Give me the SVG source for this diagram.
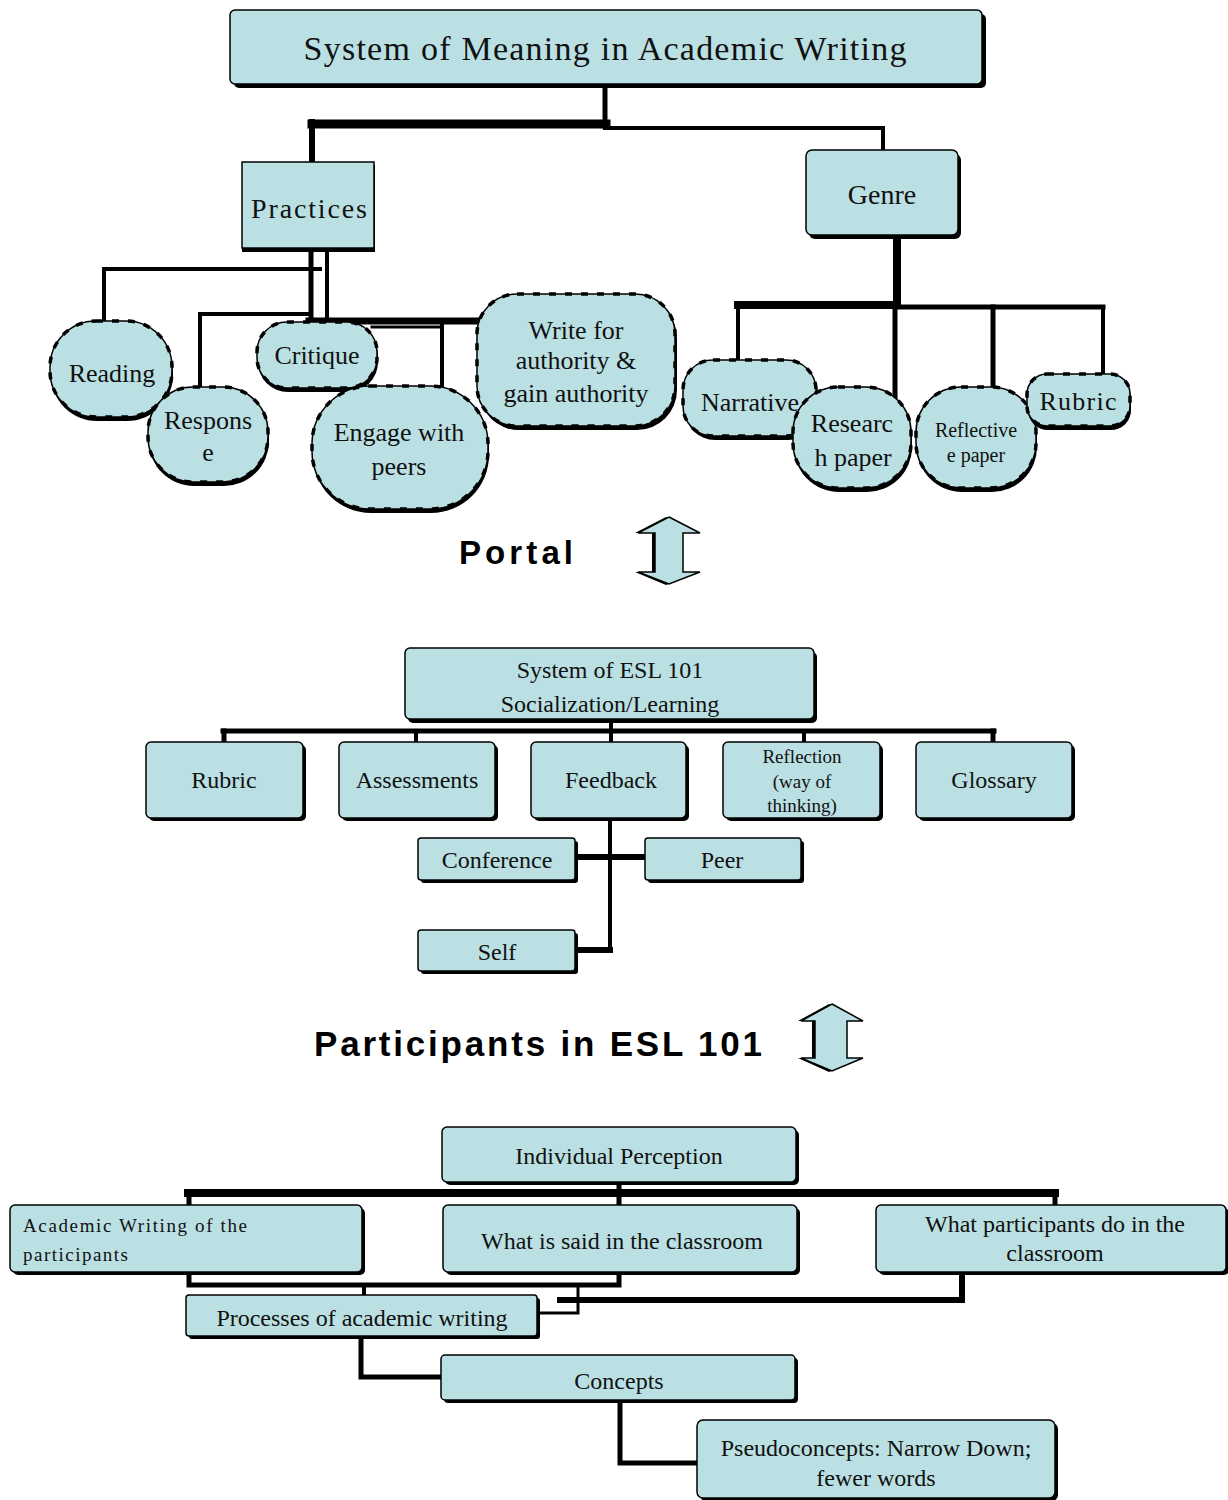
<svg xmlns="http://www.w3.org/2000/svg" width="1228" height="1500" viewBox="0 0 1228 1500">
<style>
.bg{fill:#ffffff}
.sh{fill:#000000}
.bx{fill:#BAE0E3;stroke:#000;stroke-width:1.5}
.ov{fill:#BAE0E3;stroke:#000;stroke-width:1.5}
.ovd{fill:none;stroke:#000;stroke-width:3.5;stroke-dasharray:7 9}
.t{font-family:"Liberation Serif","Times New Roman",serif;fill:#111;text-anchor:middle}
.tl{font-family:"Liberation Serif","Times New Roman",serif;fill:#111;text-anchor:start}
.b{font-family:"Liberation Sans",Arial,sans-serif;font-weight:bold;fill:#000}
.c{fill:none;stroke:#000;stroke-linecap:square}
.ar{fill:#BAE0E3;stroke:#000;stroke-width:1.5;stroke-linejoin:miter}
</style>
<rect class="bg" x="0" y="0" width="1228" height="1500"/>

<g id="connectors">
  <path class="c" stroke-width="5" d="M605 84 V126"/>
  <path class="c" stroke-width="9" d="M312 124 H606"/>
  <path class="c" stroke-width="4" d="M605 128 H883 V150"/>
  <path class="c" stroke-width="6" d="M312 122 V162"/>
  <path class="c" stroke-width="5" d="M311 249 V322"/>
  <path class="c" stroke-width="4" d="M327 249 V318"/>
  <path class="c" stroke-width="4" d="M104 269 H320 M104 269 V322"/>
  <path class="c" stroke-width="4" d="M200 314 H310 M200 314 V388"/>
  <path class="c" stroke-width="7" d="M309 321 H482"/>
  <path class="c" stroke-width="3" d="M372 327 H442"/>
  <path class="c" stroke-width="4" d="M442 321 V390"/>
  <path class="c" stroke-width="8" d="M897 235 V305"/>
  <path class="c" stroke-width="8" d="M738 305 H897"/>
  <path class="c" stroke-width="5" d="M897 307 H1103"/>
  <path class="c" stroke-width="4" d="M738 305 V361"/>
  <path class="c" stroke-width="5" d="M895 307 V400"/>
  <path class="c" stroke-width="5" d="M993 307 V388"/>
  <path class="c" stroke-width="4" d="M1103 307 V375"/>
  <path class="c" stroke-width="4" d="M611 720 V742"/>
  <path class="c" stroke-width="5" d="M223 731 H994"/>
  <path class="c" stroke-width="5" d="M224 731 V742"/>
  <path class="c" stroke-width="4" d="M416 731 V742"/>
  <path class="c" stroke-width="4" d="M804 731 V742"/>
  <path class="c" stroke-width="5" d="M993 731 V742"/>
  <path class="c" stroke-width="4" d="M610 818 V950"/>
  <path class="c" stroke-width="6" d="M576 857 H645"/>
  <path class="c" stroke-width="6" d="M576 950 H610"/>
  <path class="c" stroke-width="5" d="M619 1182 V1205"/>
  <path class="c" stroke-width="8" d="M188 1193 H1055"/>
  <path class="c" stroke-width="5" d="M189 1193 V1205"/>
  <path class="c" stroke-width="5" d="M1055 1193 V1205"/>
  <path class="c" stroke-width="5" d="M189 1272 V1285 H619 V1272"/>
  <path class="c" stroke-width="4" d="M364 1285 V1295"/>
  <path class="c" stroke-width="3" d="M537 1313 H578 V1286"/>
  <path class="c" stroke-width="6" d="M560 1300 H962 V1253"/>
  <path class="c" stroke-width="5" d="M361 1336 V1377 H442"/>
  <path class="c" stroke-width="5" d="M620 1400 V1463 H697"/>
</g>

<g id="n-title">
  <rect class="sh" x="234" y="14" width="752" height="74" rx="5"/>
  <rect class="bx" x="230" y="10" width="752" height="74" rx="5"/>
  <text class="t" x="605" y="60" font-size="34" textLength="603" lengthAdjust="spacing">System of Meaning in Academic Writing</text>
</g>
<g id="n-practices">
  <rect class="sh" x="242" y="165" width="133" height="87"/>
  <rect class="bx" x="242" y="162" width="132" height="86"/>
  <text class="t" x="309" y="218" font-size="28" textLength="116" lengthAdjust="spacing">Practices</text>
</g>
<g id="n-genre">
  <rect class="sh" x="809" y="154" width="152" height="85" rx="6"/>
  <rect class="bx" x="806" y="150" width="152" height="85" rx="6"/>
  <text class="t" x="882" y="204" font-size="28">Genre</text>
</g>

<g id="n-reading">
  <rect class="sh" x="51" y="325" width="122" height="96" rx="46"/>
  <rect class="ov" x="50" y="321" width="122" height="96" rx="46"/>
  <rect class="ovd" x="50" y="321" width="122" height="96" rx="46"/>
  <text class="t" x="112" y="382" font-size="26">Reading</text>
</g>
<g id="n-response">
  <rect class="sh" x="149" y="391" width="120" height="95" rx="45"/>
  <rect class="ov" x="148" y="387" width="120" height="95" rx="45"/>
  <rect class="ovd" x="148" y="387" width="120" height="95" rx="45"/>
  <text class="t" x="208" y="429" font-size="26">Respons</text>
  <text class="t" x="208" y="461" font-size="26">e</text>
</g>
<g id="n-critique">
  <rect class="sh" x="258" y="326" width="120" height="66" rx="30"/>
  <rect class="ov" x="257" y="322" width="120" height="66" rx="30"/>
  <rect class="ovd" x="257" y="322" width="120" height="66" rx="30"/>
  <text class="t" x="317" y="364" font-size="26">Critique</text>
</g>
<g id="n-engage">
  <rect class="sh" x="313" y="390" width="176" height="123" rx="58"/>
  <rect class="ov" x="312" y="386" width="176" height="123" rx="58"/>
  <rect class="ovd" x="312" y="386" width="176" height="123" rx="58"/>
  <text class="t" x="399" y="441" font-size="26">Engage with</text>
  <text class="t" x="399" y="475" font-size="26">peers</text>
</g>
<g id="n-write">
  <rect class="sh" x="479" y="298" width="198" height="132" rx="40"/>
  <rect class="ov" x="477" y="294" width="198" height="132" rx="40"/>
  <rect class="ovd" x="477" y="294" width="198" height="132" rx="40"/>
  <text class="t" x="576" y="339" font-size="26">Write for</text>
  <text class="t" x="576" y="369" font-size="26">authority &amp;</text>
  <text class="t" x="576" y="402" font-size="26">gain authority</text>
</g>
<g id="n-narrative">
  <rect class="sh" x="685" y="364" width="133" height="76" rx="30"/>
  <rect class="ov" x="683" y="360" width="133" height="76" rx="30"/>
  <rect class="ovd" x="683" y="360" width="133" height="76" rx="30"/>
  <text class="t" x="750" y="411" font-size="26">Narrative</text>
</g>
<g id="n-research">
  <rect class="sh" x="794" y="391" width="118" height="101" rx="45"/>
  <rect class="ov" x="793" y="387" width="118" height="101" rx="45"/>
  <rect class="ovd" x="793" y="387" width="118" height="101" rx="45"/>
  <text class="t" x="852" y="432" font-size="26">Researc</text>
  <text class="t" x="853" y="466" font-size="26">h paper</text>
</g>
<g id="n-reflective">
  <rect class="sh" x="917" y="391" width="120" height="101" rx="45"/>
  <rect class="ov" x="916" y="387" width="120" height="101" rx="45"/>
  <rect class="ovd" x="916" y="387" width="120" height="101" rx="45"/>
  <text class="t" x="976" y="437" font-size="20">Reflective</text>
  <text class="t" x="976" y="462" font-size="20">e paper</text>
</g>
<g id="n-rubric-top">
  <rect class="sh" x="1028" y="378" width="103" height="52" rx="20"/>
  <rect class="ov" x="1027" y="374" width="103" height="52" rx="20"/>
  <rect class="ovd" x="1027" y="374" width="103" height="52" rx="20"/>
  <text class="t" x="1078" y="410" font-size="26" textLength="77" lengthAdjust="spacing">Rubric</text>
</g>

<g id="portal">
  <text class="b" x="459" y="564" font-size="33" textLength="114" lengthAdjust="spacing">Portal</text>
  <polygon class="sh" points="666,517 697,533 680,533 680,572 697,572 666,585 635,572 652,572 652,533 635,533"/>
  <polygon class="ar" points="669,517 700,533 683,533 683,572 700,572 669,584 638,572 655,572 655,533 638,533"/>
</g>

<g id="n-esl">
  <rect class="sh" x="408" y="652" width="409" height="71" rx="5"/>
  <rect class="bx" x="405" y="648" width="409" height="71" rx="5"/>
  <text class="t" x="610" y="678" font-size="24">System of ESL 101</text>
  <text class="t" x="610" y="712" font-size="24">Socialization/Learning</text>
</g>
<g id="n-rubric">
  <rect class="sh" x="149" y="745" width="157" height="76" rx="5"/>
  <rect class="bx" x="146" y="742" width="157" height="76" rx="5"/>
  <text class="t" x="224" y="788" font-size="24">Rubric</text>
</g>
<g id="n-assessments">
  <rect class="sh" x="342" y="745" width="156" height="76" rx="5"/>
  <rect class="bx" x="339" y="742" width="156" height="76" rx="5"/>
  <text class="t" x="417" y="788" font-size="24">Assessments</text>
</g>
<g id="n-feedback">
  <rect class="sh" x="534" y="745" width="155" height="76" rx="5"/>
  <rect class="bx" x="531" y="742" width="155" height="76" rx="5"/>
  <text class="t" x="611" y="788" font-size="24">Feedback</text>
</g>
<g id="n-reflection">
  <rect class="sh" x="726" y="745" width="157" height="76" rx="5"/>
  <rect class="bx" x="723" y="742" width="157" height="76" rx="5"/>
  <text class="t" x="802" y="763" font-size="19">Reflection</text>
  <text class="t" x="802" y="788" font-size="19">(way of</text>
  <text class="t" x="802" y="812" font-size="19">thinking)</text>
</g>
<g id="n-glossary">
  <rect class="sh" x="919" y="745" width="156" height="76" rx="5"/>
  <rect class="bx" x="916" y="742" width="156" height="76" rx="5"/>
  <text class="t" x="994" y="788" font-size="24">Glossary</text>
</g>
<g id="n-conference">
  <rect class="sh" x="421" y="841" width="157" height="42" rx="3"/>
  <rect class="bx" x="418" y="838" width="157" height="42" rx="3"/>
  <text class="t" x="497" y="868" font-size="24">Conference</text>
</g>
<g id="n-peer">
  <rect class="sh" x="648" y="841" width="156" height="42" rx="3"/>
  <rect class="bx" x="645" y="838" width="156" height="42" rx="3"/>
  <text class="t" x="722" y="868" font-size="24">Peer</text>
</g>
<g id="n-self">
  <rect class="sh" x="421" y="933" width="157" height="41" rx="3"/>
  <rect class="bx" x="418" y="930" width="157" height="41" rx="3"/>
  <text class="t" x="497" y="960" font-size="24">Self</text>
</g>

<g id="participants">
  <text class="b" x="314" y="1056" font-size="35" textLength="448" lengthAdjust="spacing">Participants in ESL 101</text>
  <polygon class="sh" points="829,1004 860,1021 843,1021 843,1058 860,1058 829,1072 798,1058 812,1058 812,1021 798,1021"/>
  <polygon class="ar" points="832,1004 863,1021 847,1021 847,1058 863,1058 832,1071 801,1058 815,1058 815,1021 801,1021"/>
</g>

<g id="n-individual">
  <rect class="sh" x="445" y="1130" width="354" height="55" rx="5"/>
  <rect class="bx" x="442" y="1127" width="354" height="55" rx="5"/>
  <text class="t" x="619" y="1164" font-size="24">Individual Perception</text>
</g>
<g id="n-academic">
  <rect class="sh" x="13" y="1208" width="352" height="67" rx="5"/>
  <rect class="bx" x="10" y="1205" width="352" height="67" rx="5"/>
  <text class="tl" x="23" y="1232" font-size="19" textLength="224" lengthAdjust="spacing">Academic Writing of the</text>
  <text class="tl" x="23" y="1261" font-size="19" textLength="105" lengthAdjust="spacing">participants</text>
</g>
<g id="n-said">
  <rect class="sh" x="446" y="1208" width="354" height="67" rx="5"/>
  <rect class="bx" x="443" y="1205" width="354" height="67" rx="5"/>
  <text class="t" x="622" y="1249" font-size="24">What is said in the classroom</text>
</g>
<g id="n-do">
  <rect class="sh" x="879" y="1208" width="350" height="67" rx="5"/>
  <rect class="bx" x="876" y="1205" width="350" height="67" rx="5"/>
  <text class="t" x="1055" y="1232" font-size="24">What participants do in the</text>
  <text class="t" x="1055" y="1261" font-size="24">classroom</text>
</g>
<g id="n-processes">
  <rect class="sh" x="189" y="1298" width="351" height="41" rx="3"/>
  <rect class="bx" x="186" y="1295" width="351" height="41" rx="3"/>
  <text class="t" x="362" y="1326" font-size="24">Processes of academic writing</text>
</g>
<g id="n-concepts">
  <rect class="sh" x="444" y="1358" width="354" height="45" rx="4"/>
  <rect class="bx" x="441" y="1355" width="354" height="45" rx="4"/>
  <text class="t" x="619" y="1389" font-size="24">Concepts</text>
</g>
<g id="n-pseudo">
  <rect class="sh" x="700" y="1423" width="358" height="78" rx="6"/>
  <rect class="bx" x="697" y="1420" width="358" height="78" rx="6"/>
  <text class="t" x="876" y="1456" font-size="24">Pseudoconcepts:  Narrow Down;</text>
  <text class="t" x="876" y="1486" font-size="24">fewer words</text>
</g>
</svg>
